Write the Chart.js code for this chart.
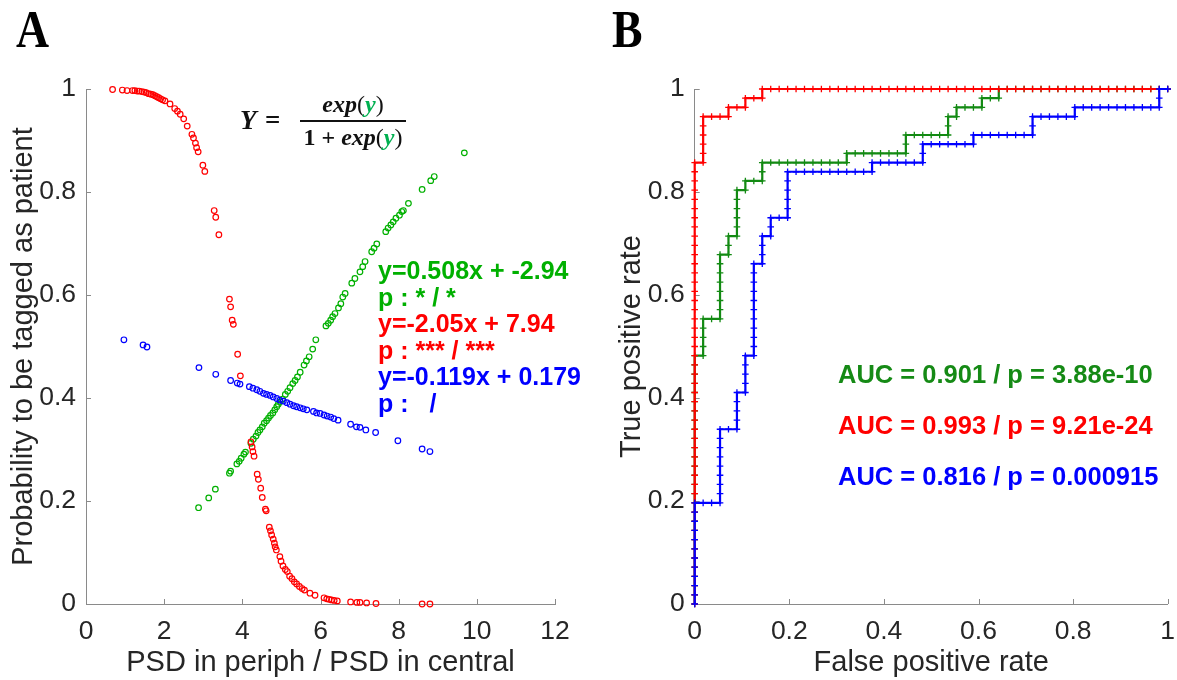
<!DOCTYPE html>
<html>
<head>
<meta charset="utf-8">
<script src="https://cdn.jsdelivr.net/npm/chart.js@4.4.1/dist/chart.umd.min.js"></script>
<style>
  body { margin: 0; background: #fff; }
  #wrap { position: relative; width: 1177px; height: 680px; overflow: hidden; font-family: "Liberation Sans", Arial, sans-serif; }
  canvas { position: absolute; top: 0; }
  #chartA { left: 0; }
  #chartB { left: 590px; }
  .panel { position: absolute; font-family: "Liberation Serif", "Times New Roman", serif; font-weight: bold; font-size: 52px; line-height: 1; color: #000; transform: scaleX(0.88); transform-origin: left top; }
  .note { position: absolute; font-weight: bold; font-size: 25px; line-height: 26.5px; white-space: pre; }
  .auc { position: absolute; font-weight: bold; font-size: 25.5px; line-height: 30px; white-space: pre; }
  .math { position: absolute; font-family: "Liberation Serif", "Times New Roman", serif; font-weight: bold; font-size: 24px; line-height: 1; color: #111; white-space: pre; }
  .math i { font-style: italic; }
  .math .g { color: #00b050; }
  .math .p { font-weight: normal; }
  #fbar { position: absolute; left: 300px; top: 120px; width: 106px; height: 1.6px; background: #111; }
</style>
</head>
<body>
<div id="wrap">
  <canvas id="chartA" width="590" height="680"></canvas>
  <canvas id="chartB" width="587" height="680"></canvas>

  <div class="panel" style="left:16px; top:4px;">A</div>
  <div class="panel" style="left:612px; top:4px;">B</div>

  <div class="math" style="left:240px; top:107px; font-size:27px;"><i>Y</i></div>
  <div class="math" style="left:265px; top:107px; font-size:27px;" >=</div>
  <div class="math" style="left:298px; top:92px; width:110px; text-align:center;"><i>exp</i><span class="p">(</span><i class="g">y</i><span class="p">)</span></div>
  <div id="fbar"></div>
  <div class="math" style="left:298px; top:125px; width:110px; text-align:center;">1 + <i>exp</i><span class="p">(</span><i class="g">y</i><span class="p">)</span></div>

  <div class="note" style="left:378px; top:257px;"><span style="color:#00b000">y=0.508x + -2.94
p : * / *</span>
<span style="color:#ff0000">y=-2.05x + 7.94
p : *** / ***</span>
<span style="color:#0000ff">y=-0.119x + 0.179
p :   /</span></div>

  <div class="auc" style="left:838px; top:359px; color:#158a15;">AUC = 0.901 / p = 3.88e-10</div>
  <div class="auc" style="left:838px; top:410px; color:#ff0000;">AUC = 0.993 / p = 9.21e-24</div>
  <div class="auc" style="left:838px; top:461px; color:#0000ff;">AUC = 0.816 / p = 0.000915</div>
</div>

<script>
// Panel A: fitted probability per subject
const redX = [0.68, 0.93, 1.05, 1.19, 1.25, 1.31, 1.36, 1.43, 1.49, 1.54, 1.60, 1.66, 1.71, 1.76, 1.81, 1.86, 1.91, 1.96, 2.02,
  2.15, 2.27, 2.34, 2.41, 2.50, 2.59, 2.71, 2.75, 2.80, 2.83, 2.87, 2.99, 3.04, 3.28, 3.32, 3.40, 3.67, 3.70, 3.74, 3.77,
  3.88, 3.95, 4.22, 4.25, 4.27, 4.30, 4.38, 4.41, 4.47, 4.51, 4.59, 4.61, 4.69, 4.72, 4.75, 4.79, 4.82, 4.84, 4.87, 4.96,
  4.99, 5.04, 5.10, 5.15, 5.21, 5.27, 5.33, 5.39, 5.46, 5.53, 5.59, 5.73, 5.86, 6.09, 6.16, 6.22, 6.28, 6.35, 6.43, 6.77,
  6.93, 7.01, 7.18, 7.42, 8.60, 8.80];
const redY = [0.999, 0.998, 0.997, 0.997, 0.997, 0.996, 0.996, 0.995, 0.994, 0.993, 0.991, 0.990, 0.989, 0.987, 0.985, 0.983, 0.981, 0.979, 0.977,
  0.971, 0.962, 0.957, 0.951, 0.942, 0.928, 0.912, 0.905, 0.895, 0.886, 0.878, 0.852, 0.840, 0.764, 0.751, 0.717, 0.592, 0.577, 0.551, 0.543,
  0.485, 0.443, 0.315, 0.305, 0.296, 0.287, 0.252, 0.242, 0.225, 0.207, 0.184, 0.181, 0.149, 0.142, 0.134, 0.126, 0.118, 0.111, 0.105, 0.092,
  0.083, 0.074, 0.067, 0.063, 0.054, 0.049, 0.043, 0.039, 0.034, 0.030, 0.027, 0.021, 0.017, 0.012, 0.010, 0.009, 0.008, 0.007, 0.006, 0.004,
  0.003, 0.003, 0.002, 0.001, 0.000, 0.000];

const greenX = [2.88, 3.14, 3.31, 3.67, 3.70, 3.86, 3.92, 3.97, 4.04, 4.08, 4.22, 4.28, 4.35, 4.40, 4.45, 4.51, 4.56, 4.62, 4.67,
  4.72, 4.78, 4.83, 4.88, 4.92, 4.97, 5.03, 5.10, 5.16, 5.22, 5.29, 5.35, 5.41, 5.48, 5.58, 5.64, 5.71, 5.80, 5.88, 6.14,
  6.20, 6.26, 6.31, 6.37, 6.46, 6.52, 6.57, 6.63, 6.80, 6.88, 7.01, 7.08, 7.14, 7.31, 7.37, 7.44, 7.67, 7.73, 7.80, 7.86,
  7.93, 8.02, 8.08, 8.12, 8.25, 8.60, 8.82, 8.91, 9.68];
const greenY = [0.187, 0.206, 0.223, 0.254, 0.258, 0.272, 0.277, 0.283, 0.291, 0.295, 0.312, 0.320, 0.326, 0.333, 0.338, 0.344, 0.351, 0.356, 0.361,
  0.366, 0.371, 0.377, 0.383, 0.388, 0.393, 0.398, 0.407, 0.413, 0.420, 0.428, 0.434, 0.441, 0.450, 0.464, 0.472, 0.480, 0.495, 0.513, 0.540,
  0.545, 0.551, 0.558, 0.564, 0.575, 0.583, 0.596, 0.603, 0.623, 0.632, 0.645, 0.655, 0.665, 0.684, 0.691, 0.699, 0.723, 0.730, 0.736, 0.742,
  0.749, 0.755, 0.762, 0.764, 0.778, 0.805, 0.822, 0.830, 0.876];

const blueX = [0.97, 1.46, 1.56, 2.89, 3.32, 3.70, 3.87, 3.94, 4.18, 4.27, 4.37, 4.45, 4.54, 4.62, 4.71, 4.79, 4.88, 4.96, 5.05,
  5.14, 5.22, 5.31, 5.39, 5.48, 5.56, 5.65, 5.82, 5.90, 5.99, 6.09, 6.17, 6.26, 6.34, 6.45, 6.77, 6.92, 7.01, 7.16, 7.41,
  7.98, 8.60, 8.80];
const blueY = [0.513, 0.503, 0.499, 0.459, 0.446, 0.434, 0.429, 0.427, 0.422, 0.419, 0.416, 0.413, 0.409, 0.407, 0.405, 0.402, 0.399, 0.396, 0.394,
  0.391, 0.388, 0.385, 0.383, 0.381, 0.379, 0.377, 0.374, 0.371, 0.370, 0.367, 0.365, 0.363, 0.360, 0.357, 0.349, 0.344, 0.343, 0.338, 0.333,
  0.317, 0.301, 0.296];

// Panel B: subjects ordered by score, runs of patients (+n) and controls (-n)
const nControls = 56;
const nPatients = 56;
const greenRuns = [27, -1, 4, -2, 7, -1, 2, -1, 5, -1, 1, -2, 2, -10, 1, -7, 2, -5, 2, -1, 1, -3, 1, -2, 1, -20];
const redRuns = [48, -1, 5, -3, 1, -2, 1, -2, 1, -48];
const blueRuns = [11, -3, 8, -2, 4, -1, 4, -1, 10, -1, 3, -1, 2, -2, 5, -10, 1, -6, 2, -6, 1, -7, 2, -5, 1, -10, 2, -1];

const xTicksA = [0, 2, 4, 6, 8, 10, 12];
const xTicksB = [0, 0.2, 0.4, 0.6, 0.8, 1];
const yTicks = [0, 0.2, 0.4, 0.6, 0.8, 1];

const RED = '#ff0000';
const GREEN_A = '#00b000';
const GREEN_B = '#138a13';
const BLUE = '#0000ff';
const AXIS = '#8a8a8a';
const TEXT = '#262626';
const FONT = '"Liberation Sans", Arial, sans-serif';

function zip(xs, ys) {
  return xs.map((x, i) => ({ x: x, y: ys[i] }));
}

// walk the ordered labels to get one ROC point per threshold
function rocPoints(runs) {
  let fp = 0, tp = 0;
  const pts = [{ x: 0, y: 0 }];
  runs.forEach(n => {
    for (let i = 0; i < Math.abs(n); i++) {
      if (n > 0) tp++; else fp++;
      pts.push({ x: fp / nControls, y: tp / nPatients });
    }
  });
  return pts;
}

// MATLAB style ticks pointing into the plot
const innerTicks = {
  id: 'innerTicks',
  beforeDatasetsDraw(chart) {
    const { ctx, chartArea, scales } = chart;
    ctx.save();
    ctx.strokeStyle = AXIS;
    ctx.lineWidth = 1;
    ctx.beginPath();
    scales.x.ticks.forEach(t => {
      const px = Math.round(scales.x.getPixelForValue(t.value)) + 0.5;
      ctx.moveTo(px, chartArea.bottom);
      ctx.lineTo(px, chartArea.bottom - 5);
    });
    scales.y.ticks.forEach(t => {
      const py = Math.round(scales.y.getPixelForValue(t.value)) + 0.5;
      ctx.moveTo(chartArea.left, py);
      ctx.lineTo(chartArea.left + 5, py);
    });
    ctx.stroke();
    ctx.restore();
  }
};

function axisOpts(min, max, ticks, title, fitSize, isX, titlePad) {
  return {
    type: 'linear',
    min: min,
    max: max,
    afterBuildTicks: s => { s.ticks = ticks.map(v => ({ value: v })); },
    afterFit: s => {
      // fixed margins so the plot box sits where the original one does
      if (isX) { s.height = fitSize; s.paddingLeft = 0; s.paddingRight = 0; }
      else { s.width = fitSize; s.paddingTop = 0; s.paddingBottom = 0; }
    },
    grid: { display: true, drawOnChartArea: false, drawTicks: false },
    border: { display: true, color: AXIS, width: 1 },
    ticks: {
      color: TEXT, font: { family: FONT, size: 26.5 }, padding: isX ? 12 : 10, maxRotation: 0,
      callback: v => String(v)
    },
    title: { display: true, text: title, color: TEXT, font: { family: FONT, size: 29 }, padding: titlePad }
  };
}

const baseOpts = {
  responsive: false,
  animation: false,
  events: [],
  plugins: { legend: { display: false }, tooltip: { enabled: false } }
};

new Chart(document.getElementById('chartA'), {
  type: 'scatter',
  data: {
    datasets: [
      { data: zip(greenX, greenY), order: 3, borderColor: GREEN_A },
      { data: zip(redX, redY), order: 2, borderColor: RED },
      { data: zip(blueX, blueY), order: 1, borderColor: BLUE }
    ].map(d => Object.assign(d, {
      backgroundColor: 'rgba(0,0,0,0)', pointRadius: 2.8, pointBorderWidth: 1.2, clip: false
    }))
  },
  options: Object.assign({}, baseOpts, {
    layout: { padding: { top: 89, right: 35, left: 0, bottom: 0 } },
    scales: {
      x: axisOpts(0, 12, xTicksA, 'PSD in periph / PSD in central', 76, true, { top: 0, bottom: 0 }),
      y: axisOpts(0, 1, yTicks, 'Probability to be tagged as patient', 86, false, { top: 7, bottom: 0 })
    }
  }),
  plugins: [innerTicks]
});

new Chart(document.getElementById('chartB'), {
  type: 'scatter',
  data: {
    datasets: [
      { data: rocPoints(greenRuns), order: 3, borderColor: GREEN_B },
      { data: rocPoints(redRuns), order: 2, borderColor: RED },
      { data: rocPoints(blueRuns), order: 1, borderColor: BLUE }
    ].map(d => Object.assign(d, {
      showLine: true, borderWidth: 2.2, backgroundColor: d.borderColor, tension: 0,
      pointStyle: 'cross', pointRadius: 3.3, pointBorderWidth: 1.3, clip: false
    }))
  },
  options: Object.assign({}, baseOpts, {
    layout: { padding: { top: 89, right: 9.3, left: 0, bottom: 0 } },
    scales: {
      x: axisOpts(0, 1, xTicksB, 'False positive rate', 76, true, { top: 0, bottom: 0 }),
      y: axisOpts(0, 1, yTicks, 'True positive rate', 104.7, false, { top: 25, bottom: 0 })
    }
  }),
  plugins: [innerTicks]
});
</script>
</body>
</html>
